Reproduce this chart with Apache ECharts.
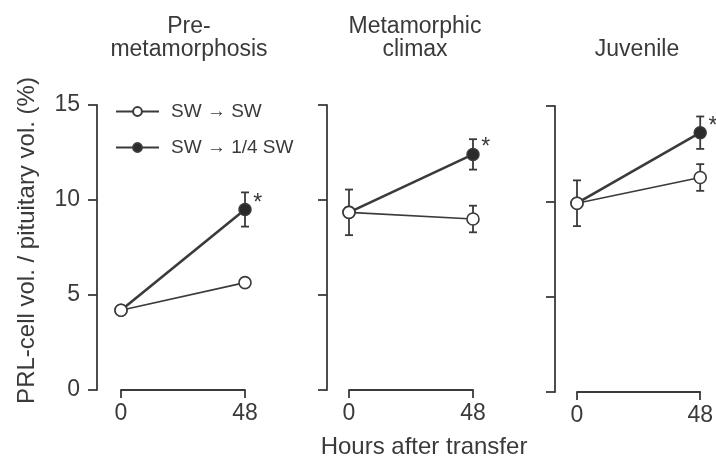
<!DOCTYPE html>
<html>
<head>
<meta charset="utf-8">
<script src="https://cdn.jsdelivr.net/npm/echarts@6/dist/echarts.min.js"></script>
<style>
  html, body { margin: 0; padding: 0; background: #fff; }
  #chart { width: 716px; height: 460px; }
</style>
</head>
<body>
<div id="chart"></div>
<script>
  // data
  var panelTitles = ['Pre-\nmetamorphosis', 'Metamorphic\nclimax', 'Juvenile'];
  var hours = [0, 48];
  var swMean = [[4.2, 5.65], [9.35, 9.0], [9.9, 11.25]];
  var swErr = [[0.15, 0.15], [1.2, 0.7], [1.2, 0.7]];
  var quarterMean = [[4.2, 9.5], [9.35, 12.4], [9.9, 13.6]];
  var quarterErr = [[0, 0.9], [0, 0.8], [0, 0.85]];
  var seriesNames = ['SW \u2192 SW', 'SW \u2192 1/4 SW'];
  var yName = 'PRL-cell vol. / pituitary vol. (%)';
  var xName = 'Hours after transfer';

  var ink = '#3a3a3a';
  var font = "'Liberation Sans', Arial, sans-serif";

  var grids = [
    {left: 121, width: 124, top: 105, height: 285},
    {left: 349, width: 124, top: 105, height: 285},
    {left: 577, width: 125, top: 106, height: 286}
  ];
  var yOffsets = [24, 22, 22];
  var titleLeft = [184, 410, 632];
  var titleTop = [10, 10, 33];

  function errorBars(params, api) {
    var e = api.value(2);
    if (!e) return null;
    var x = api.value(0), y = api.value(1);
    var hi = api.coord([x, y + e]);
    var lo = api.coord([x, y - e]);
    var cap = 4;
    var style = {stroke: ink, lineWidth: 1.8};
    return {
      type: 'group',
      children: [
        {type: 'line', shape: {x1: hi[0], y1: hi[1], x2: lo[0], y2: lo[1]}, style: style},
        {type: 'line', shape: {x1: hi[0] - cap, y1: hi[1], x2: hi[0] + cap, y2: hi[1]}, style: style},
        {type: 'line', shape: {x1: lo[0] - cap, y1: lo[1], x2: lo[0] + cap, y2: lo[1]}, style: style}
      ]
    };
  }

  var xAxes = [], yAxes = [], series = [], titles = [];
  for (var i = 0; i < 3; i++) {
    xAxes.push({
      gridIndex: i, type: 'value', min: 0, max: 48, interval: 48,
      splitLine: {show: false},
      axisLine: {onZero: false, lineStyle: {color: ink, width: 1.8}},
      axisTick: {inside: false, length: 8, lineStyle: {color: ink, width: 1.8}},
      axisLabel: {color: ink, fontSize: 23, fontFamily: font, margin: 12}
    });
    yAxes.push({
      gridIndex: i, type: 'value', min: 0, max: 15, interval: 5,
      offset: yOffsets[i],
      name: i === 0 ? yName : '',
      nameLocation: 'middle', nameGap: 58, nameRotate: 90,
      nameTextStyle: {color: ink, fontSize: 24, fontFamily: font, padding: [0, 0, 0, 14]},
      splitLine: {show: false},
      axisLine: {show: true, onZero: false, lineStyle: {color: ink, width: 1.8}},
      axisTick: {inside: false, length: 9, lineStyle: {color: ink, width: 1.8}},
      axisLabel: {show: i === 0, color: ink, fontSize: 23, fontFamily: font, margin: 17}
    });
    titles.push({
      text: panelTitles[i], left: titleLeft[i], top: titleTop[i], textAlign: 'center',
      textStyle: {color: ink, fontSize: 23, fontWeight: 'normal', fontFamily: font, lineHeight: 23}
    });

    var swData = hours.map(function (h, k) { return [h, swMean[i][k]]; });
    var qData = hours.map(function (h, k) {
      var d = {value: [h, quarterMean[i][k]]};
      if (k === 1) {
        d.label = {show: true, formatter: '*', position: [15, -11],
          color: ink, fontSize: 23, fontFamily: font};
      }
      return d;
    });

    series.push({
      type: 'custom', xAxisIndex: i, yAxisIndex: i, renderItem: errorBars, z: 1, silent: true,
      data: hours.map(function (h, k) { return [h, quarterMean[i][k], quarterErr[i][k]]; }),
      encode: {x: 0, y: 1}
    });
    series.push({
      type: 'custom', xAxisIndex: i, yAxisIndex: i, renderItem: errorBars, z: 1, silent: true,
      data: hours.map(function (h, k) { return [h, swMean[i][k], swErr[i][k]]; }),
      encode: {x: 0, y: 1}
    });
    series.push({
      name: seriesNames[1], type: 'line', xAxisIndex: i, yAxisIndex: i, z: 2,
      data: qData, symbol: 'circle', symbolSize: 12, clip: false,
      lineStyle: {color: ink, width: 2.6},
      itemStyle: {color: '#2b2b2b', borderColor: ink, borderWidth: 1.5}
    });
    series.push({
      name: seriesNames[0], type: 'line', xAxisIndex: i, yAxisIndex: i, z: 3,
      data: swData, symbol: 'circle', symbolSize: 12, clip: false,
      lineStyle: {color: ink, width: 1.6},
      itemStyle: {color: '#fff', borderColor: ink, borderWidth: 1.6}
    });
  }

  titles.push({
    text: xName, left: 419, top: 430, textAlign: 'center',
    textStyle: {color: ink, fontSize: 24, fontWeight: 'normal', fontFamily: font}
  });

  var chart = echarts.init(document.getElementById('chart'), null, {renderer: 'canvas'});
  chart.setOption({
    backgroundColor: '#fff',
    animation: false,
    title: titles,
    legend: {
      data: seriesNames, orient: 'vertical', left: 110, top: 97,
      itemWidth: 43, itemHeight: 11, itemGap: 17,
      textStyle: {color: ink, fontSize: 19, fontFamily: font, padding: [0, 0, 0, 7]}
    },
    grid: grids,
    xAxis: xAxes,
    yAxis: yAxes,
    series: series
  });
</script>
</body>
</html>
